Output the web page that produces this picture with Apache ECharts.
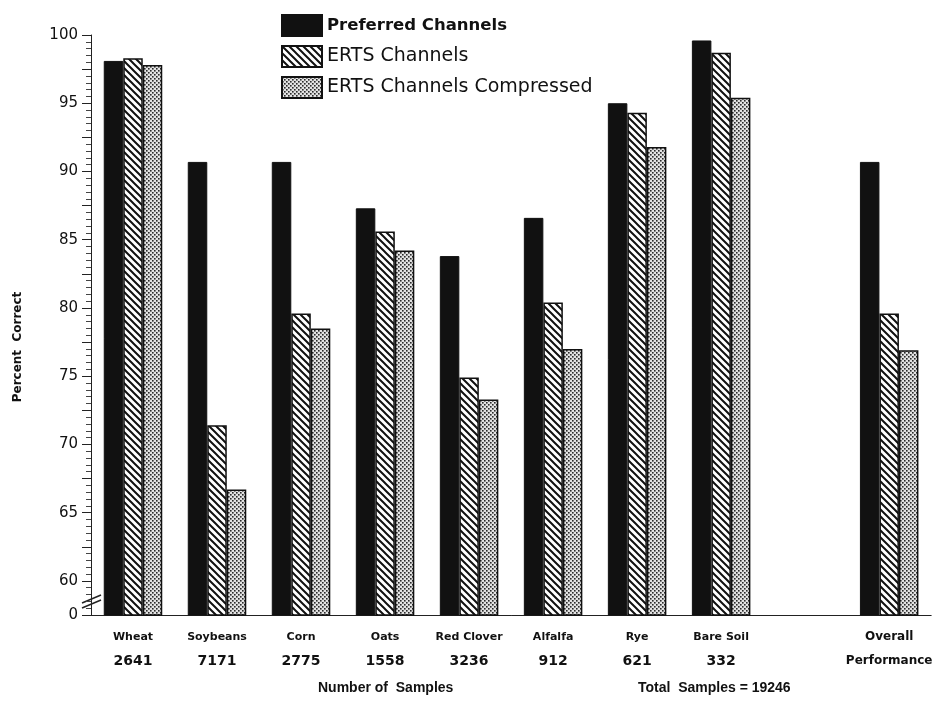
<!DOCTYPE html>
<html>
<head>
<meta charset="utf-8">
<script src="https://cdn.jsdelivr.net/npm/echarts@6/dist/echarts.min.js"></script>
<style>
html,body{margin:0;padding:0;background:#fff;}
#chart{width:935px;height:702px;}
</style>
</head>
<body>
<div id="chart"></div>
<script>
// ---- data ----
var categories = ['Wheat', 'Soybeans', 'Corn', 'Oats', 'Red Clover', 'Alfalfa', 'Rye', 'Bare Soil', '', 'Overall'];
var sampleCounts = ['2641', '7171', '2775', '1558', '3236', '912', '621', '332', '', 'Performance'];
var preferred = [98.1, 90.7, 90.7, 87.3, 83.8, 86.6, 95.0, 99.6, null, 90.7];
var erts = [98.3, 71.4, 79.6, 85.6, 74.9, 80.4, 94.3, 98.7, null, 79.6];
var ertsCompressed = [97.8, 66.7, 78.5, 84.2, 73.3, 77.0, 91.8, 95.4, null, 76.9];
var seriesNames = ['Preferred Channels', 'ERTS Channels', 'ERTS Channels Compressed'];
var yTickLabels = {'57.5': '0', '60': '60', '65': '65', '70': '70', '75': '75', '80': '80', '85': '85', '90': '90', '95': '95', '100': '100'};

// ---- patterns ----
function hatchPattern() {
  var c = document.createElement('canvas');
  c.width = 7; c.height = 7;
  var g = c.getContext('2d');
  g.fillStyle = '#ffffff'; g.fillRect(0, 0, 7, 7);
  g.strokeStyle = '#111'; g.lineWidth = 2;
  g.beginPath();
  g.moveTo(-1, -1); g.lineTo(8, 8);
  g.moveTo(-1, 6); g.lineTo(1, 8);
  g.moveTo(6, -1); g.lineTo(8, 1);
  g.stroke();
  return c;
}
function dotPattern() {
  var c = document.createElement('canvas');
  c.width = 4; c.height = 4;
  var g = c.getContext('2d');
  g.fillStyle = '#e2e2e2'; g.fillRect(0, 0, 4, 4);
  g.fillStyle = '#2a2a2a';
  g.fillRect(0, 0, 1.6, 1.6);
  g.fillRect(2, 2, 1.6, 1.6);
  return c;
}

var FONT = '"DejaVu Sans", sans-serif';
var chart = echarts.init(document.getElementById('chart'), null, {renderer: 'canvas'});

var option = {
  backgroundColor: '#ffffff',
  animation: false,
  legend: {
    orient: 'vertical',
    left: 276,
    top: 9,
    itemWidth: 40,
    itemHeight: 21,
    itemGap: 8,
    icon: 'rect',
    textStyle: {fontFamily: FONT, fontSize: 19, color: '#111'},
    data: [
      {name: seriesNames[0], textStyle: {fontWeight: 'bold', fontSize: 16.5}},
      {name: seriesNames[1]},
      {name: seriesNames[2]}
    ]
  },
  grid: {left: 91, top: 35, width: 850, bottom: 87},
  xAxis: {
    type: 'category',
    data: categories,
    axisLine: {lineStyle: {color: '#222', width: 1}},
    axisTick: {show: false},
    axisLabel: {
      interval: 0,
      margin: 10,
      formatter: function (v, i) {
        if (v === '') return '';
        if (v === 'Overall') return '{o|Overall}\n{o|' + sampleCounts[i] + '}';
        return '{n|' + v + '}\n{c|' + sampleCounts[i] + '}';
      },
      rich: {
        n: {fontFamily: FONT, fontWeight: 'bold', fontSize: 11, color: '#111', lineHeight: 24},
        c: {fontFamily: FONT, fontWeight: 'bold', fontSize: 14, color: '#111', lineHeight: 24},
        o: {fontFamily: FONT, fontWeight: 'bold', fontSize: 12, color: '#111', lineHeight: 24}
      }
    }
  },
  yAxis: {
    type: 'value',
    min: 57.5,
    max: 100,
    interval: 2.5,
    axisLine: {show: true, lineStyle: {color: '#222', width: 1}},
    axisTick: {show: true, inside: false, length: 9, lineStyle: {color: '#222'}},
    minorTick: {show: true, splitNumber: 5, length: 5, lineStyle: {color: '#444'}},
    splitLine: {show: false},
    axisLabel: {
      margin: 13,
      fontFamily: FONT,
      fontSize: 15,
      color: '#111',
      formatter: function (v) {
        var k = String(v);
        return yTickLabels.hasOwnProperty(k) ? yTickLabels[k] : '';
      }
    }
  },
  series: [
    {
      name: seriesNames[0], type: 'bar', data: preferred,
      barWidth: 19.5, barGap: '0%',
      itemStyle: {color: '#111111', borderColor: '#111', borderWidth: 1}
    },
    {
      name: seriesNames[1], type: 'bar', data: erts,
      barWidth: 19.5, barGap: '0%',
      itemStyle: {color: {image: hatchPattern(), repeat: 'repeat'}, borderColor: '#111', borderWidth: 1.5}
    },
    {
      name: seriesNames[2], type: 'bar', data: ertsCompressed,
      barWidth: 19.5, barGap: '0%',
      itemStyle: {color: {image: dotPattern(), repeat: 'repeat'}, borderColor: '#111', borderWidth: 1.5}
    }
  ],
  graphic: [
    {type: 'line', shape: {x1: 82, y1: 603, x2: 101, y2: 595}, style: {stroke: '#222', lineWidth: 1.5}},
    {type: 'line', shape: {x1: 82, y1: 608, x2: 101, y2: 600}, style: {stroke: '#222', lineWidth: 1.5}},
    {type: 'text', x: 18, y: 347, rotation: Math.PI / 2,
      style: {text: 'Percent  Correct', font: 'bold 12px "DejaVu Sans", sans-serif', fill: '#111', textAlign: 'center', textVerticalAlign: 'middle'}},
    {type: 'text', left: 318, top: 681, style: {text: 'Number of  Samples', font: 'bold 14px "Liberation Sans", sans-serif', fill: '#111'}},
    {type: 'text', left: 638, top: 681, style: {text: 'Total  Samples = 19246', font: 'bold 14px "Liberation Sans", sans-serif', fill: '#111'}}
  ]
};
chart.setOption(option);
</script>
</body>
</html>
